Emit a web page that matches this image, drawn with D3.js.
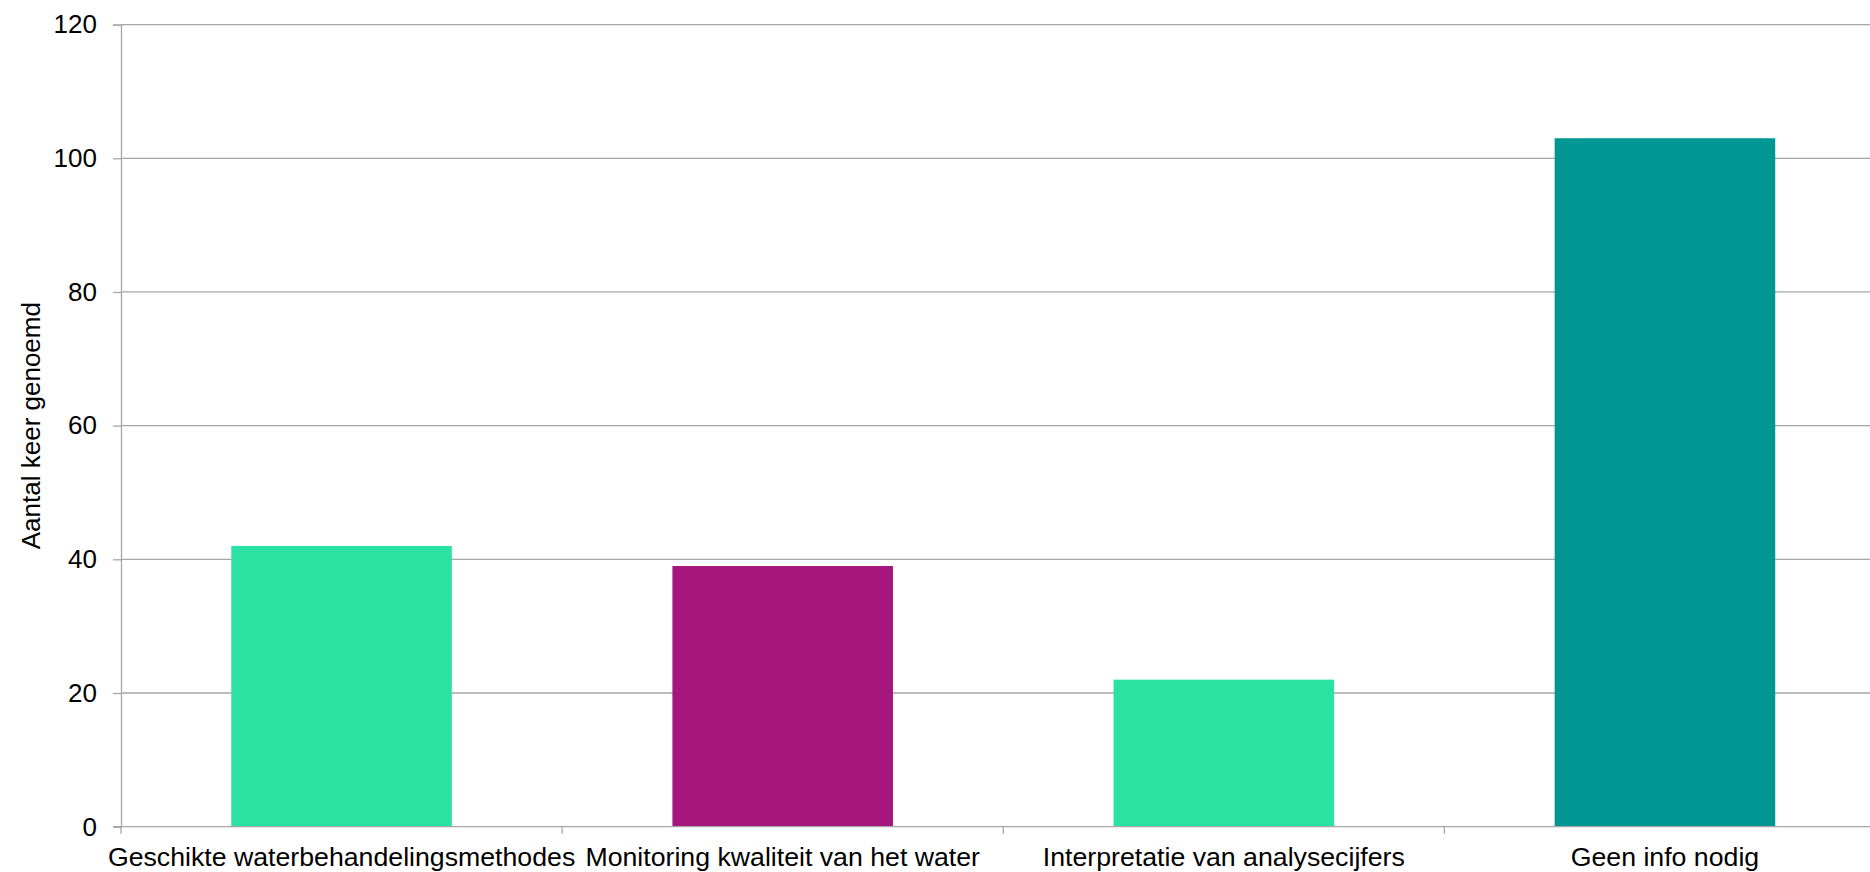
<!DOCTYPE html>
<html>
<head>
<meta charset="utf-8">
<script src="https://cdn.jsdelivr.net/npm/d3@7"></script>
<style>
html,body{margin:0;padding:0;background:#fff;}
svg{display:block;}
text{font-family:"Liberation Sans",Arial,sans-serif;fill:#000;}
</style>
</head>
<body>
<svg id="chart" width="1870" height="872"></svg>
<script>
const categories = ["Geschikte waterbehandelingsmethodes","Monitoring kwaliteit van het water","Interpretatie van analysecijfers","Geen info nodig"];
const values = [42, 39, 22, 103];
const barColors = ["#2AE3A3", "#A6177E", "#2AE3A3", "#009693"];
const yTicks = [0, 20, 40, 60, 80, 100, 120];
const yTitle = "Aantal keer genoemd";

(function () {
const svg = d3.select("#chart");
const mLeft = 121, mRight = 1885.5, mTop = 24.6, mBottom = 826.7;
const gridColor = "#a6a6a6";

const x = d3.scaleBand().domain(categories).range([mLeft, mRight]).paddingInner(0.5).paddingOuter(0.25);
const y = d3.scaleLinear().domain([0, 120]).range([mBottom, mTop]);
const step = x.step();

// gridlines
svg.append("g").selectAll("line").data(yTicks.filter(d => d > 0)).join("line")
  .attr("x1", mLeft).attr("x2", 1870)
  .attr("y1", d => y(d)).attr("y2", d => y(d))
  .attr("stroke", gridColor).attr("stroke-width", 1.3);

// bars
svg.append("g").selectAll("rect").data(categories).join("rect")
  .attr("x", d => x(d))
  .attr("width", x.bandwidth())
  .attr("y", (d, i) => y(values[i]))
  .attr("height", (d, i) => y(0) - y(values[i]))
  .attr("fill", (d, i) => barColors[i]);

// y axis
const yAxis = d3.axisLeft(y).tickValues(yTicks).tickSize(8).tickPadding(16);
const gy = svg.append("g").attr("transform", `translate(${mLeft},0)`).call(yAxis);
gy.select(".domain").attr("stroke", gridColor).attr("stroke-width", 1.3);
gy.selectAll(".tick line").attr("stroke", gridColor).attr("stroke-width", 1.3);
gy.selectAll(".tick text").style("font-size", "26px").style("font-family", "Liberation Sans, Arial, sans-serif").attr("fill", "#000");

// x axis
const xAxis = d3.axisBottom(x).tickSize(0).tickPadding(20);
const gx = svg.append("g").attr("transform", `translate(0,${mBottom})`).call(xAxis);
gx.select(".domain").remove();
gx.append("line").attr("x1", mLeft - 8).attr("x2", 1870).attr("y1", 0).attr("y2", 0)
  .attr("stroke", gridColor).attr("stroke-width", 1.3);
gx.selectAll(".tick text").style("font-size", "26.7px").style("font-family", "Liberation Sans, Arial, sans-serif").attr("fill", "#000").attr("dy", "0.71em");
const boundaries = categories.map(c => x(c) - step * 0.25).concat([x(categories[categories.length - 1]) + step * 0.75]);
gx.append("g").selectAll("line").data(boundaries).join("line")
  .attr("x1", d => d).attr("x2", d => d).attr("y1", 0).attr("y2", 7)
  .attr("stroke", gridColor).attr("stroke-width", 1.3);

// y title
svg.append("text")
  .attr("transform", `translate(40,${(mTop + mBottom) / 2}) rotate(-90)`)
  .attr("text-anchor", "middle")
  .style("font-size", "26px")
  .text(yTitle);
})();
</script>
</body>
</html>
